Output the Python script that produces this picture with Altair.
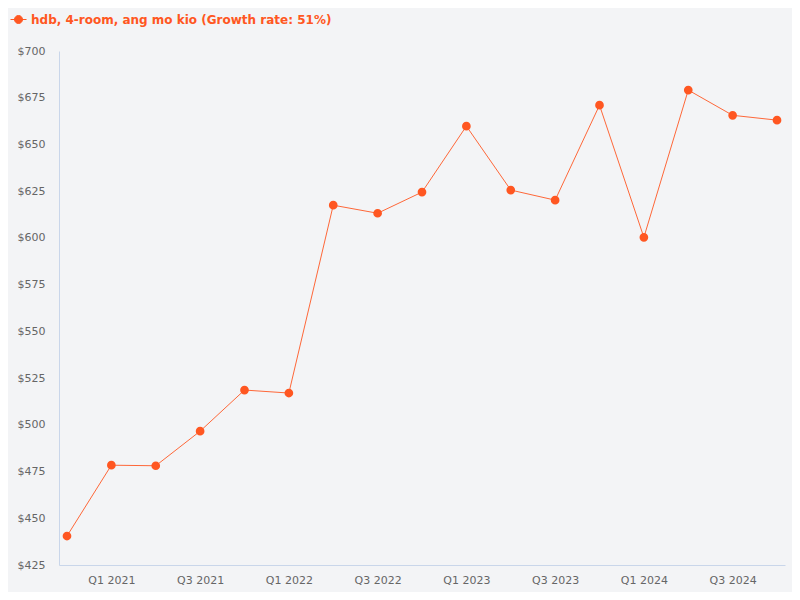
import altair as alt
import pandas as pd

quarters = ["Q4 2020", "Q1 2021", "Q2 2021", "Q3 2021", "Q4 2021", "Q1 2022", "Q2 2022",
            "Q3 2022", "Q4 2022", "Q1 2023", "Q2 2023", "Q3 2023", "Q4 2023", "Q1 2024",
            "Q2 2024", "Q3 2024", "Q4 2024"]
prices = [440.5, 478.4, 478.1, 496.6, 518.6, 517.0, 617.5, 613.2, 624.5, 659.8,
          625.6, 620.2, 671.0, 600.3, 679.1, 665.6, 663.0]
series_name = "hdb, 4-room, ang mo kio (Growth rate: 51%)"

df = pd.DataFrame({"quarter": quarters, "price": prices, "series": [series_name] * len(quarters)})

color = "#ff5722"
font = "DejaVu Sans"

chart = alt.Chart(df).mark_line(
    color=color, strokeWidth=0.9,
    point=alt.OverlayMarkDef(color=color, size=45, filled=True, opacity=1)
).encode(
    x=alt.X("quarter:O", sort=quarters, title=None,
            scale=alt.Scale(type="point", padding=0.18),
            axis=alt.Axis(labelAngle=0, ticks=False, domainColor="#c9d6ea", labelColor="#666666",
                          labelFont=font, labelFontSize=11, labelPadding=9,
                          labelExpr="(substring(datum.label,0,2)=='Q1' || substring(datum.label,0,2)=='Q3') ? datum.label : ''")),
    y=alt.Y("price:Q", title=None,
            scale=alt.Scale(domain=[425, 700], nice=False, zero=False),
            axis=alt.Axis(values=list(range(425, 701, 25)), format="$,.0f", grid=False, ticks=False,
                          domainColor="#c9d6ea", labelColor="#666666", labelFont=font,
                          labelFontSize=11, labelPadding=14)),
    stroke=alt.Stroke("series:N", scale=alt.Scale(range=[color]),
                      legend=alt.Legend(title=None, orient="none", legendX=-49, legendY=-40,
                                        symbolType="M-1,0H1M-0.5,0A0.5,0.5 0 1,0 0.5,0A0.5,0.5 0 1,0 -0.5,0",
                                        symbolFillColor=color, symbolStrokeColor=color,
                                        symbolStrokeWidth=1, symbolSize=256,
                                        labelColor=color, labelFont=font, labelFontSize=12,
                                        labelFontWeight="bold", labelLimit=500, labelOffset=4)),
).properties(
    width=726, height=514,
    background="#f3f4f6",
    padding={"left": 51, "top": 43, "right": 7, "bottom": 27},
    autosize=alt.AutoSizeParams(type="none"),
).configure_view(stroke=None)

chart.save("out.html", embed_options={"renderer": "svg", "actions": False})
